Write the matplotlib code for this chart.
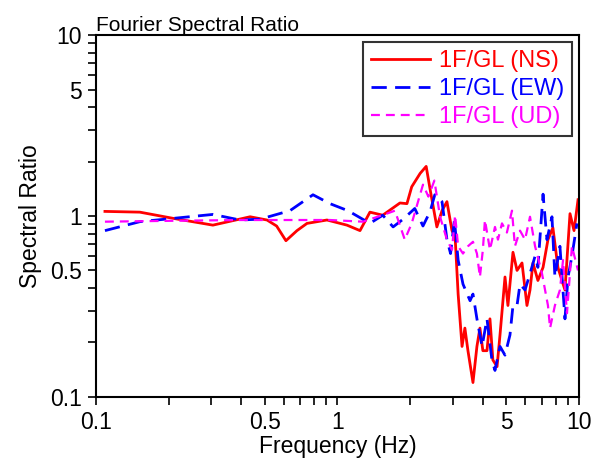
import numpy as np
import matplotlib
matplotlib.use("Agg")
import matplotlib.pyplot as plt

plt.rcParams['font.family'] = ['Liberation Sans', 'DejaVu Sans']

# Spectral ratio curves (frequency in Hz, ratio)
ns_freq = [0.109, 0.152, 0.209, 0.305, 0.435, 0.511, 0.56, 0.612, 0.68, 0.748,
           0.905, 1.095, 1.24, 1.363, 1.54, 1.815, 1.94, 2.03, 2.20, 2.33,
           2.42, 2.58, 2.71, 2.84, 2.98, 3.07, 3.16, 3.28, 3.37, 3.47,
           3.64, 3.78, 3.89, 4.00, 4.16, 4.28, 4.40, 4.58, 4.71, 4.94,
           5.08, 5.33, 5.54, 5.81, 6.09, 6.27, 6.45, 6.76, 7.10, 7.44,
           7.80, 8.18, 8.50, 8.75, 9.18, 9.54, 9.91]
ns_ratio = [1.06, 1.05, 0.97, 0.89, 0.99, 0.95, 0.88, 0.73, 0.83, 0.91,
            0.95, 0.89, 0.83, 1.05, 1.01, 1.18, 1.17, 1.45, 1.72, 1.88,
            1.40, 0.87, 1.07, 1.20, 0.83, 0.77, 0.37, 0.19, 0.24, 0.18,
            0.12, 0.19, 0.24, 0.18, 0.18, 0.27, 0.16, 0.147, 0.22, 0.46,
            0.32, 0.63, 0.50, 0.55, 0.32, 0.39, 0.55, 0.44, 0.52, 0.74,
            0.86, 0.52, 0.44, 0.39, 1.03, 0.83, 1.23]

ew_freq = [0.109, 0.152, 0.209, 0.305, 0.395, 0.478, 0.636, 0.792, 0.931, 1.105,
           1.363, 1.54, 1.70, 1.87, 2.09, 2.26, 2.42, 2.53, 2.71, 2.84,
           2.94, 3.05, 3.16, 3.31, 3.54, 3.64, 3.78, 3.97, 4.16, 4.36,
           4.49, 4.71, 4.94, 5.18, 5.33, 5.54, 5.70, 5.98, 6.27, 6.58,
           6.76, 7.10, 7.37, 7.73, 7.95, 8.34, 8.75, 9.01, 9.35, 9.81]
ew_ratio = [0.83, 0.93, 0.97, 1.02, 0.95, 0.96, 1.07, 1.31, 1.17, 1.07,
            0.91, 1.01, 0.87, 0.96, 1.10, 0.88, 1.06, 1.31, 1.20, 0.74,
            0.62, 0.95, 0.57, 0.42, 0.34, 0.37, 0.27, 0.19, 0.27, 0.16,
            0.14, 0.19, 0.17, 0.22, 0.32, 0.32, 0.42, 0.39, 0.48, 0.60,
            0.52, 1.32, 0.74, 0.99, 0.46, 0.68, 0.27, 0.46, 0.60, 0.91]

ud_freq = [0.109, 0.2, 0.4, 0.7, 0.93, 1.275, 1.60, 1.73, 1.90, 2.03,
           2.26, 2.38, 2.52, 2.66, 2.84, 2.98, 3.07, 3.16, 3.31, 3.47,
           3.64, 3.78, 3.89, 4.00, 4.08, 4.28, 4.49, 4.62, 4.80, 5.03,
           5.28, 5.43, 5.70, 5.98, 6.27, 6.58, 7.03, 7.44, 7.59, 7.95,
           8.34, 8.59, 8.92, 9.35, 9.91]
ud_ratio = [0.93, 0.94, 0.95, 0.95, 0.95, 0.93, 1.03, 1.07, 0.74, 0.91,
            1.49, 1.28, 1.57, 0.99, 0.74, 0.65, 1.01, 0.68, 0.62, 0.68,
            0.72, 0.62, 0.46, 0.65, 0.95, 0.65, 0.87, 0.74, 0.91, 0.81,
            1.07, 0.68, 0.83, 0.74, 0.99, 0.68, 0.48, 0.32, 0.24, 0.32,
            0.39, 0.57, 0.29, 0.68, 0.50]

fig = plt.figure(figsize=(5.92, 4.68), dpi=100)
ax = fig.add_axes([0.162, 0.152, 0.816, 0.773])

ax.plot(ns_freq, ns_ratio, color='#ff0000', lw=2, label='1F/GL (NS)')
ax.plot(ew_freq, ew_ratio, color='#0000ff', lw=2, dashes=(5.5, 3), label='1F/GL (EW)')
ax.plot(ud_freq, ud_ratio, color='#ff00ff', lw=1.6, dashes=(4, 2.7), label='1F/GL (UD)')

ax.set_xscale('log')
ax.set_yscale('log')
ax.set_xlim(0.1, 10)
ax.set_ylim(0.1, 10)

ticks = [0.1, 0.5, 1, 5, 10]
labels = ['0.1', '0.5', '1', '5', '10']
ax.set_xticks(ticks)
ax.set_xticklabels(labels)
ax.set_yticks(ticks)
ax.set_yticklabels(labels)
minor = [0.2, 0.3, 0.4, 0.6, 0.7, 0.8, 0.9, 2, 3, 4, 6, 7, 8, 9]
ax.set_xticks(minor, minor=True)
ax.set_yticks(minor, minor=True)
ax.xaxis.set_minor_formatter(plt.NullFormatter())
ax.yaxis.set_minor_formatter(plt.NullFormatter())
ax.tick_params(which='both', direction='out', length=6, width=1.2, labelsize=16.5, pad=4)

for s in ax.spines.values():
    s.set_linewidth(1.5)

ax.set_xlabel('Frequency (Hz)', fontsize=16.5, labelpad=1)
ax.set_ylabel('Spectral Ratio', fontsize=16.5, labelpad=6)
ax.set_title('Fourier Spectral Ratio', loc='left', fontsize=15, pad=2)

leg = ax.legend(loc='upper right', fontsize=17, handlelength=2.5, frameon=True,
                fancybox=False, edgecolor='black', borderaxespad=0.28,
                labelspacing=0.25, handletextpad=0.38, borderpad=0.35)
leg.get_frame().set_linewidth(1.5)
for txt, line in zip(leg.get_texts(), leg.get_lines()):
    txt.set_color(line.get_color())

fig.savefig('out.png', dpi=100)
